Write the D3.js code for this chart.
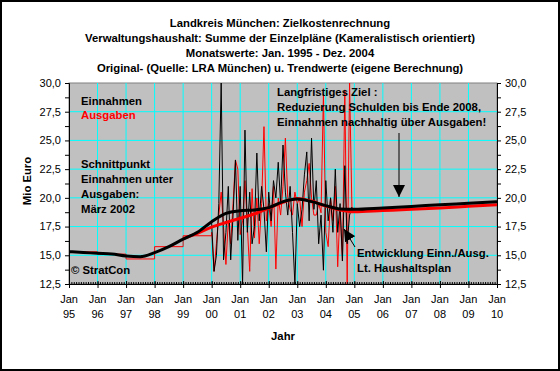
<!DOCTYPE html>
<html>
<head>
<meta charset="utf-8">
<script src="https://cdn.jsdelivr.net/npm/d3@7"></script>
<style>
  body { margin: 0; background: #fff; }
  svg { display: block; font-family: Arial, "Liberation Sans", sans-serif; }
</style>
</head>
<body>
<div id="canvas"></div>
<script>
// titles and labels
var titleLines = [
    "Landkreis München: Zielkostenrechnung",
    "Verwaltungshaushalt: Summe der Einzelpläne (Kameralistisch orientiert)",
    "Monatswerte: Jan. 1995 - Dez. 2004",
    "Original- (Quelle: LRA München) u. Trendwerte (eigene Berechnung)"
];
var tickYears = [1995, 1996, 1997, 1998, 1999, 2000, 2001, 2002, 2003, 2004, 2005, 2006, 2007, 2008, 2009, 2010];
var tickYearLabels = ["95", "96", "97", "98", "99", "00", "01", "02", "03", "04", "05", "06", "07", "08", "09", "10"];
var yTicks = [12.5, 15, 17.5, 20, 22.5, 25, 27.5, 30];

// Ausgaben, Jahreswerte 1995 - 1999
var ausgabenJahre = [1995, 1996, 1997, 1998, 1999];
var ausgabenJahr = [15.3, 15.1, 14.68, 15.75, 16.7];

// Monatswerte Jan. 2000 - Dez. 2004
var einnahmenMonat = [
    17.8, 13.6, 15.0, 19.5, 30.0, 14.6, 17.0, 21.0, 14.6, 18.5, 23.3, 16.3,
    21.0, 12.5, 25.9, 17.0, 20.5, 16.0, 17.5, 23.9, 18.0, 21.0, 19.0, 15.3,
    20.5, 18.0, 21.5, 20.0, 23.1, 19.5, 24.6, 20.5, 18.5, 21.0, 17.0, 12.5,
    19.5, 17.5, 19.0, 22.0, 24.0, 18.0, 25.2, 19.0, 21.5, 16.0, 18.5, 13.7,
    21.5, 18.0, 20.0, 17.0, 22.5, 17.0, 19.5, 14.5, 22.8, 16.0, 18.5, 19.2
];
var ausgabenMonat = [
    17.0, 13.6, 16.0, 18.5, 20.5, 17.5, 14.2, 18.0, 16.0, 19.5, 23.3, 22.5,
    16.8, 18.0, 21.5, 17.5, 13.6, 20.8, 16.5, 20.0, 16.0, 19.5, 26.2, 18.0,
    19.5, 17.5, 21.0, 13.8, 20.0, 18.5, 21.0, 25.2, 20.0, 19.0, 18.5, 20.5,
    19.5, 20.0, 17.5, 20.5, 21.5, 23.0, 20.0, 18.5, 18.5, 19.5, 18.7, 29.0,
    17.0, 15.75, 20.0, 18.0, 21.0, 14.0, 19.0, 14.5, 29.4, 12.5, 30.0, 19.0
];

// Trendwerte und Planwerte (Haushaltsplan ab 2005)
var trendEinnahmenJahre = [1995, 1995.5, 1996, 1996.5, 1997, 1997.5, 1998, 1998.5, 1999, 1999.5,
    2000, 2000.5, 2001, 2001.5, 2002, 2002.5, 2003, 2003.5, 2004, 2004.5, 2005,
    2006, 2007, 2008, 2009, 2010];
var trendEinnahmen = [15.31, 15.25, 15.17, 15.11, 14.94, 14.88, 15.23, 15.75, 16.4, 17.0,
    17.92, 18.65, 18.88, 18.95, 19.15, 19.67, 19.9, 19.67, 19.32, 19.03, 19.0,
    19.12, 19.25, 19.4, 19.53, 19.67];
var trendAusgabenJahre = [1999, 1999.5, 2000, 2000.5, 2001, 2001.5, 2002, 2002.5, 2003, 2003.5,
    2004, 2004.5, 2005, 2006, 2007, 2008, 2009, 2010];
var trendAusgaben = [16.45, 16.9, 17.45, 17.85, 18.22, 18.6, 19.1, 19.6, 19.95, 19.72,
    19.28, 18.95, 18.8, 18.9, 19.0, 19.12, 19.26, 19.4];

var w = 560, h = 371;
var plot = { left: 69, right: 497, top: 83, bottom: 284 };
var boldSize = 11.3;

var svg = d3.select("#canvas")
    .append("svg")
    .attr("width", w)
    .attr("height", h);

svg.append("rect")
    .attr("x", 1).attr("y", 1)
    .attr("width", w - 2).attr("height", h - 2)
    .attr("fill", "#fff")
    .attr("stroke", "#000")
    .attr("stroke-width", 2);

var x = d3.scaleLinear().domain([1995, 2010]).range([plot.left, plot.right]);
var y = d3.scaleLinear().domain([12.5, 30]).range([plot.bottom, plot.top]);
var fmt = function (d) { return d3.format(".1f")(d).replace(".", ","); };

// plot background
svg.append("rect")
    .attr("x", plot.left).attr("y", plot.top)
    .attr("width", plot.right - plot.left).attr("height", plot.bottom - plot.top)
    .attr("fill", "#c0c0c0")
    .attr("stroke", "#808080");

// grid
svg.append("g").selectAll("line")
    .data(yTicks.slice(1, -1))
    .join("line")
    .attr("x1", plot.left).attr("x2", plot.right)
    .attr("y1", function (d) { return y(d); }).attr("y2", function (d) { return y(d); })
    .attr("stroke", "#00ffff");
svg.append("g").selectAll("line")
    .data(tickYears.slice(1, -1))
    .join("line")
    .attr("y1", plot.top).attr("y2", plot.bottom)
    .attr("x1", function (d) { return x(d); }).attr("x2", function (d) { return x(d); })
    .attr("stroke", "#00ffff");

svg.append("clipPath").attr("id", "clip")
    .append("rect")
    .attr("x", plot.left).attr("y", plot.top - 1)
    .attr("width", plot.right - plot.left).attr("height", plot.bottom - plot.top + 2);
var lines = svg.append("g").attr("clip-path", "url(#clip)");

// monthly series
var monthPoints = function (arr) {
    return arr.map(function (v, i) { return [2000 + i / 12, v]; });
};
var line = d3.line()
    .x(function (d) { return x(d[0]); })
    .y(function (d) { return y(d[1]); });

// Ausgaben: Jahresstufen bis 1999, dann Monatswerte
var ausgabenStufen = ausgabenJahre.map(function (yr, i) { return [yr, ausgabenJahr[i]]; });
ausgabenStufen.push([2000, ausgabenJahr[ausgabenJahr.length - 1]]);
lines.append("path")
    .attr("d", line.curve(d3.curveStepAfter)(ausgabenStufen))
    .attr("fill", "none").attr("stroke", "#ff0000").attr("stroke-width", 1);
line.curve(d3.curveLinear);
lines.append("path")
    .attr("d", line([[2000, ausgabenJahr[ausgabenJahr.length - 1]]].concat(monthPoints(ausgabenMonat))))
    .attr("fill", "none").attr("stroke", "#ff0000").attr("stroke-width", 1);
lines.append("path")
    .attr("d", line(monthPoints(einnahmenMonat)))
    .attr("fill", "none").attr("stroke", "#000").attr("stroke-width", 1);

// trend lines
var trendLine = d3.line()
    .x(function (d) { return x(d[0]); })
    .y(function (d) { return y(d[1]); })
    .curve(d3.curveMonotoneX);
lines.append("path")
    .attr("d", trendLine(trendAusgabenJahre.map(function (yr, i) { return [yr, trendAusgaben[i]]; })))
    .attr("fill", "none").attr("stroke", "#ff0000").attr("stroke-width", 3);
lines.append("path")
    .attr("d", trendLine(trendEinnahmenJahre.map(function (yr, i) { return [yr, trendEinnahmen[i]]; })))
    .attr("fill", "none").attr("stroke", "#000").attr("stroke-width", 3);

// axes
var yMinor = d3.range(12.5, 30.01, 1.25);
svg.append("g")
    .attr("transform", "translate(" + plot.left + ",0)")
    .call(d3.axisLeft(y).tickValues(yMinor).tickSize(4).tickFormat(""));
svg.append("g")
    .attr("transform", "translate(" + plot.right + ",0)")
    .call(d3.axisRight(y).tickValues(yMinor).tickSize(4).tickFormat(""));
svg.append("g").selectAll("text")
    .data(yTicks).join("text")
    .attr("x", plot.left - 8).attr("y", function (d) { return y(d); })
    .attr("dy", "0.35em").attr("text-anchor", "end")
    .attr("font-size", 11)
    .text(fmt);
svg.append("g").selectAll("text")
    .data(yTicks).join("text")
    .attr("x", plot.right + 8).attr("y", function (d) { return y(d); })
    .attr("dy", "0.35em")
    .attr("font-size", 11)
    .text(fmt);

var xMinor = d3.range(0, 15 * 12 + 1).map(function (m) { return 1995 + m / 12; });
svg.append("g")
    .attr("transform", "translate(0," + plot.bottom + ")")
    .call(d3.axisTop(x).tickValues(xMinor).tickSize(2).tickFormat(""));
var xAxis = svg.append("g")
    .attr("transform", "translate(0," + plot.bottom + ")")
    .call(d3.axisBottom(x).tickValues(tickYears).tickSize(4).tickFormat(""));
xAxis.selectAll(".tick line").attr("y1", -3);
svg.selectAll(".domain").attr("stroke", "#000");

var xLabels = svg.append("g").selectAll("g")
    .data(tickYears).join("g")
    .attr("transform", function (d) { return "translate(" + x(d) + ",0)"; })
    .attr("font-size", 11)
    .attr("text-anchor", "middle");
xLabels.append("text").attr("y", 303).text("Jan");
xLabels.append("text").attr("y", 318).text(function (d, i) { return tickYearLabels[i]; });

// axis titles
svg.append("text")
    .attr("x", 283).attr("y", 340)
    .attr("text-anchor", "middle")
    .attr("font-size", boldSize).attr("font-weight", "bold")
    .text("Jahr");
svg.append("text")
    .attr("transform", "translate(31,181) rotate(-90)")
    .attr("text-anchor", "middle")
    .attr("font-size", boldSize).attr("font-weight", "bold")
    .text("Mio Euro");

// chart title
svg.append("g").selectAll("text")
    .data(titleLines).join("text")
    .attr("x", 280)
    .attr("y", function (d, i) { return 26.5 + i * 15; })
    .attr("text-anchor", "middle")
    .attr("font-size", boldSize).attr("font-weight", "bold")
    .text(function (d) { return d; });

// notes in the plot
var note = function (lx, ly, texts, color) {
    svg.append("g").selectAll("text")
        .data(texts).join("text")
        .attr("x", lx)
        .attr("y", function (d, i) { return ly + i * 15; })
        .attr("font-size", boldSize).attr("font-weight", "bold")
        .attr("fill", color || "#000")
        .text(function (d) { return d; });
};
note(81, 105, ["Einnahmen"]);
note(81, 119, ["Ausgaben"], "#ff0000");
note(81, 168, ["Schnittpunkt", "Einnahmen unter", "Ausgaben:", "März 2002"]);
note(71, 274, ["© StratCon"]);
note(277, 96, ["Langfristiges Ziel :", "Reduzierung Schulden bis Ende 2008,", "Einnahmen nachhaltig über Ausgaben!"]);
note(357, 257, ["Entwicklung Einn./Ausg.", "Lt. Haushaltsplan"]);

// arrows
svg.append("defs").append("marker")
    .attr("id", "arrow")
    .attr("viewBox", "0 0 10 10")
    .attr("refX", 10).attr("refY", 5)
    .attr("markerWidth", 12).attr("markerHeight", 12)
    .attr("markerUnits", "userSpaceOnUse")
    .attr("orient", "auto")
    .append("path").attr("d", "M0,0L10,5L0,10Z").attr("fill", "#000");
svg.append("line")
    .attr("x1", 399).attr("y1", 133).attr("x2", 399).attr("y2", 197)
    .attr("stroke", "#000").attr("marker-end", "url(#arrow)");
svg.append("line")
    .attr("x1", 355).attr("y1", 247).attr("x2", 344).attr("y2", 229)
    .attr("stroke", "#000").attr("marker-end", "url(#arrow)");
</script>
</body>
</html>
